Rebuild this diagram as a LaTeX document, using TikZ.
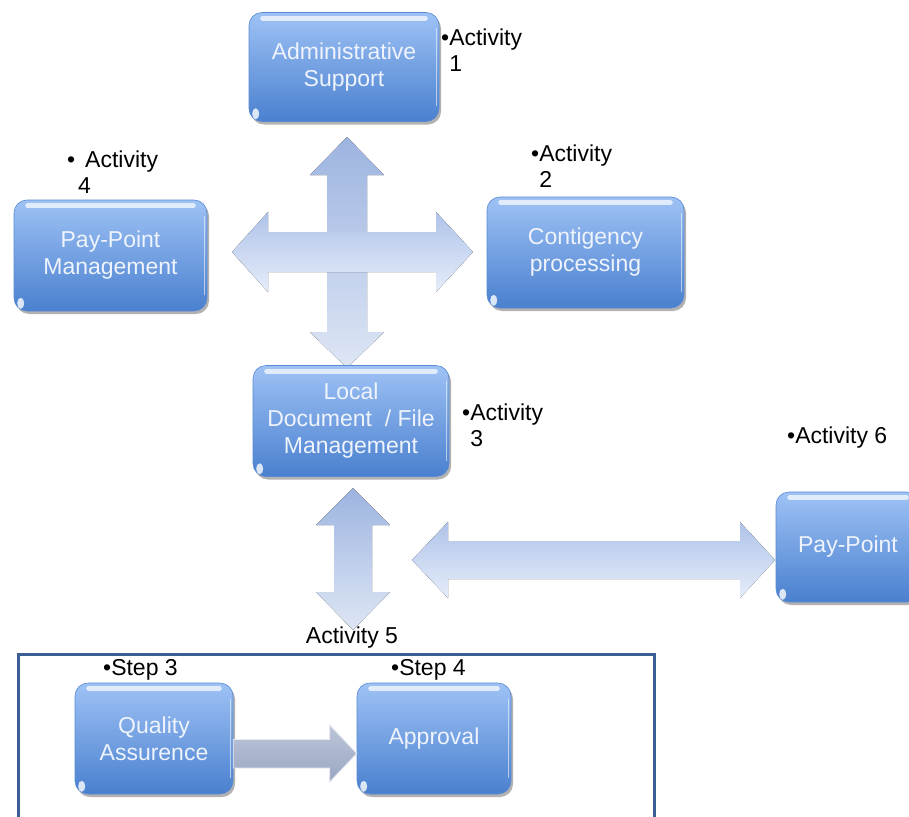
\documentclass[tikz,border=0pt]{standalone}
\usepackage{fontspec}
\setmainfont{Liberation Sans}
\usetikzlibrary{shadows,calc}

\definecolor{boxtop}{HTML}{9EC2F5}
\definecolor{boxbot}{HTML}{4A80CF}
\definecolor{boxedge}{HTML}{5A8AD2}
\definecolor{boxtext}{HTML}{EEF3FC}
\definecolor{arrtop}{HTML}{9DB4E0}
\definecolor{arrbot}{HTML}{DEE6F5}
\definecolor{harrtop}{HTML}{AFC3E9}
\definecolor{harrbot}{HTML}{E6EDFA}
\definecolor{framecol}{HTML}{3B5F93}
\definecolor{steptop}{HTML}{BCC5D9}
\definecolor{stepbot}{HTML}{9AA6C2}

% glossy highlights on a rounded box
\newcommand\boxgloss[1]{%
  \draw[gloss] ([xshift=14pt,yshift=-6pt]#1.north west) -- ([xshift=-14pt,yshift=-6pt]#1.north east);
  \draw[white,opacity=0.55,line width=1.5pt] ([xshift=-3pt,yshift=-16pt]#1.north east) -- ([xshift=-3pt,yshift=16pt]#1.south east);
  \fill[white,opacity=0.8] ([xshift=7pt,yshift=8pt]#1.south west) ellipse (3.5pt and 5.5pt);
}

\begin{document}
\begin{tikzpicture}[x=1pt,y=-1pt,
  blk/.style={rectangle, rounded corners=13pt, top color=boxtop, bottom color=boxbot,
    draw=boxedge, line width=0.6pt, text=boxtext, font=\fontsize{23}{27}\selectfont,
    align=center, inner sep=0pt,
    drop shadow={shadow xshift=2pt, shadow yshift=-3pt, opacity=0.3, fill=black}},
  lbl/.style={anchor=base west, inner sep=0pt, align=left, text=black,
    font=\fontsize{23}{26}\selectfont},
  varr/.style={top color=arrtop, bottom color=arrbot, draw=none},
  harr/.style={top color=harrtop, bottom color=harrbot, draw=none},
  steparr/.style={top color=steptop, bottom color=stepbot, draw=white!75!stepbot, line width=0.8pt},
  gloss/.style={draw=white, line width=5pt, line cap=round, opacity=0.7}
]
\fill[white] (0,0) rectangle (909,816);
\useasboundingbox (0,0) rectangle (909,816);

% group frame of activity 5
\node[draw=framecol, line width=3pt, minimum width=636pt, minimum height=200pt,
  anchor=north west, inner sep=0pt] (grp) at (17,653) {};

% four-way cross between the upper boxes
\fill[varr] (347,137) -- (384,175) -- (367,175) -- (367,332) -- (384,332) -- (347,368)
  -- (310,332) -- (327,332) -- (327,175) -- (310,175) -- cycle;
\fill[harr] (232,252) -- (268,212) -- (268,232) -- (436,232) -- (436,212) -- (473,252)
  -- (436,292) -- (436,272) -- (268,272) -- (268,292) -- cycle;

% lower double arrows
\fill[varr] (353,488) -- (390,525) -- (372,525) -- (372,592) -- (390,592) -- (353,630)
  -- (316,592) -- (334,592) -- (334,525) -- (316,525) -- cycle;
\fill[harr] (412,560) -- (448,522) -- (448,541) -- (740,541) -- (740,522) -- (775,560)
  -- (740,598) -- (740,579) -- (448,579) -- (448,598) -- cycle;

% boxes
\node[blk, minimum width=190pt, minimum height=109pt] (admin) at (344,67) {Administrative\\Support};
\node[blk, minimum width=193pt, minimum height=111pt] (ppm) at (110.5,255.5) {Pay-Point\\Management};
\node[blk, minimum width=197pt, minimum height=111pt] (cont) at (585.5,252.5) {Contigency\\processing};
\node[blk, minimum width=196pt, minimum height=111pt] (local) at (351,421) {Local\\Document\ \ / File\\Management};
\node[blk, minimum width=144pt, minimum height=110pt] (pp) at (848,547) {Pay-Point};
\node[blk, minimum width=158pt, minimum height=111pt] (qa) at (154,738.5) {Quality\\Assurence};
\node[blk, minimum width=154pt, minimum height=111pt] (appr) at (434,738.5) {Approval};

\boxgloss{admin}
\boxgloss{ppm}
\boxgloss{cont}
\boxgloss{local}
\boxgloss{pp}
\boxgloss{qa}
\boxgloss{appr}

% step arrow
\path[steparr] ([yshift=-1pt]qa.east) -- ([xshift=-27pt,yshift=-1pt]appr.west)
  -- ([xshift=-27pt,yshift=13.5pt]appr.west) -- ([yshift=-15pt]appr.west)
  -- ([xshift=-27pt,yshift=-43.5pt]appr.west) -- ([xshift=-27pt,yshift=-29.5pt]appr.west)
  -- ([yshift=-29.5pt]qa.east) -- cycle;

% labels (two-line labels are placed by the baseline of their last line)
\node[lbl] (act1) at (441,71) {\textbullet Activity\\\hphantom{\textbullet}1};
\node[lbl] (act4) at (67,193) {\textbullet\hspace{10pt}Activity\\\hspace{11pt}4};
\node[lbl] (act2) at (531,187) {\textbullet Activity\\\hphantom{\textbullet}2};
\node[lbl] (act3) at (462,446) {\textbullet Activity\\\hphantom{\textbullet}3};
\node[lbl] (act6) at (787,443) {\textbullet Activity 6};
\node[anchor=base, inner sep=0pt, font=\fontsize{23}{26}\selectfont] (act5) at (352,643) {Activity 5};
\node[lbl] (st3) at (103,675) {\textbullet Step 3};
\node[lbl] (st4) at (391,675) {\textbullet Step 4};
\end{tikzpicture}
\end{document}
